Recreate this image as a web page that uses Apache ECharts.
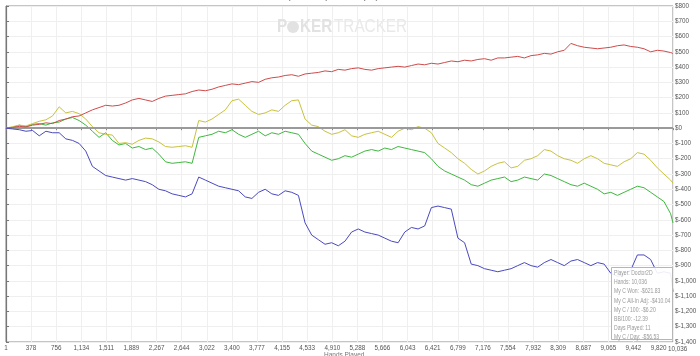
<!DOCTYPE html>
<html><head><meta charset="utf-8">
<script src="https://cdn.jsdelivr.net/npm/echarts@6/dist/echarts.min.js"></script>
<style>html,body{margin:0;padding:0;background:#fff}#c{width:700px;height:356px}</style>
</head><body><div id="c"></div>
<script>
const hands = [0,100,200,300,400,500,600,700,800,900,1000,1100,1200,1300,1400,1500,1600,1700,1800,1900,2000,2100,2200,2300,2400,2500,2600,2700,2800,2900,3000,3100,3200,3300,3400,3500,3600,3700,3800,3900,4000,4100,4200,4300,4400,4500,4600,4700,4800,4900,5000,5100,5200,5300,5400,5500,5600,5700,5800,5900,6000,6100,6200,6300,6400,6500,6600,6700,6800,6900,7000,7100,7200,7300,7400,7500,7600,7700,7800,7900,8000,8100,8200,8300,8400,8500,8600,8700,8800,8900,9000,9100,9200,9300,9400,9500,9600,9700,9800,9900,10000,10036];
const redValues = [0,5,12,8,20,25,35,30,50,60,75,80,100,120,135,150,145,150,165,185,195,185,175,195,210,215,220,225,240,250,245,255,270,280,290,285,295,305,300,320,330,335,345,350,340,355,360,365,375,370,385,380,390,395,385,380,390,395,400,405,400,410,420,415,425,420,430,440,435,445,440,450,455,445,460,460,465,470,460,475,480,490,485,500,510,555,540,530,525,520,525,530,540,545,535,530,520,500,510,505,495,490];
const yellowValues = [0,10,20,15,30,45,55,80,140,100,110,95,60,10,-30,-40,-45,-100,-95,-105,-80,-65,-70,-90,-120,-125,-120,-115,-125,50,40,60,90,120,180,190,150,110,90,100,120,110,150,180,185,60,20,10,-20,-40,-30,-10,-50,-60,-40,-30,-20,-40,-60,-20,0,-10,10,0,-30,-100,-130,-160,-200,-230,-270,-300,-280,-250,-230,-220,-260,-250,-210,-200,-180,-140,-150,-180,-200,-210,-230,-200,-180,-200,-230,-240,-250,-220,-200,-160,-170,-210,-260,-300,-340,-360];
const greenValues = [0,5,20,10,25,30,20,35,40,60,70,50,20,-20,-60,-30,-80,-110,-100,-130,-120,-140,-130,-170,-220,-230,-225,-220,-230,-60,-50,-40,-20,-30,-10,-40,-60,-40,-20,-50,-30,-40,-20,-30,-40,-100,-150,-170,-190,-210,-200,-180,-190,-170,-150,-140,-150,-130,-140,-120,-130,-140,-150,-160,-200,-250,-280,-300,-320,-340,-370,-380,-360,-340,-330,-320,-350,-340,-320,-330,-340,-300,-310,-330,-350,-370,-380,-360,-380,-400,-430,-420,-440,-420,-400,-380,-390,-420,-450,-480,-560,-620];
const blueValues = [0,-5,-10,-20,-15,-50,-20,-30,-30,-70,-80,-100,-150,-250,-280,-310,-320,-330,-340,-330,-340,-350,-370,-400,-410,-430,-440,-450,-430,-320,-340,-360,-380,-390,-400,-410,-450,-460,-420,-400,-430,-440,-410,-420,-440,-620,-700,-730,-760,-750,-770,-740,-680,-660,-680,-690,-700,-720,-740,-750,-680,-650,-660,-640,-520,-510,-520,-530,-720,-750,-890,-900,-920,-930,-940,-930,-920,-900,-880,-900,-910,-880,-860,-880,-900,-870,-860,-880,-900,-880,-890,-950,-970,-960,-930,-830,-830,-860,-950,-940,-950,-1070];
const xTickLabels = ['1','378','756','1,134','1,511','1,889','2,267','2,644','3,022','3,400','3,777','4,155','4,533','4,910','5,288','5,666','6,043','6,421','6,799','7,176','7,554','7,932','8,309','8,687','9,065','9,442','9,820','10,036'];
const seriesNames = ['My C Won','My C All-In Adj','My C Showdown','My C Non-Showdown'];
const seriesColors = ['#3fb83f','#c9c23e','#cf4b4b','#4a4ac0'];
const infoLines = ['Player: Doctor2D','Hands: 10,036','My C Won: -$621.83','My C All-In Adj: -$410.04','My C / 100: -$6.20','BB/100: -12.39','Days Played: 11','My C / Day: -$56.53'];
const titleText = 'My C Won, My C All-In Adj, My C Showdown Won, Non-Showdown';
const playerName = 'Doctor2D';
const xAxisTitle = 'Hands Played';

const FONT = "'Liberation Sans', Arial, sans-serif";
const X_INTERVAL = 377.65;
const X_MAX = 10036;
function money(v){
  const s = Math.abs(v).toLocaleString('en-US');
  return '$' + (v < 0 ? '-' : '') + s;
}
const valueSets = [greenValues, yellowValues, redValues, blueValues];
const series = valueSets.map((vals, i) => ({
  name: seriesNames[i], type: 'line', showSymbol: false, symbol: 'none',
  data: hands.map((h, j) => [h, vals[j]]),
  lineStyle: { color: seriesColors[i], width: 1 }, itemStyle: { color: seriesColors[i] },
  animation: false, z: 3 + i
}));
series.push({
  type: 'line', data: [], silent: true, animation: false,
  markLine: { silent: true, symbol: ['none','none'], label: { show: false },
    lineStyle: { color: '#9a9a9a', width: 2, type: 'solid' }, data: [{ yAxis: 0 }] }
});

const chart = echarts.init(document.getElementById('c'), null, { renderer: 'canvas' });
const lineTextEls = infoLines.map((t, i) => ({
  type: 'text', x: 614, y: 270 + i * 9.1, z: 100, scaleX: 0.78,
  style: { text: t, fontSize: 6.5, fill: '#9a9a9a', fontFamily: FONT }
}));
const graphics = [
  { type: 'text', x: 277, y: 18, z: 0, silent: true, scaleX: 0.85,
    style: { text: 'P', fontSize: 18, fontWeight: 'bold', fill: '#e2e2e2', fontFamily: FONT } },
  { type: 'circle', shape: { cx: 293, cy: 27, r: 6 }, z: 0, silent: true, style: { fill: '#e2e2e2' } },
  { type: 'text', x: 300, y: 18, z: 0, silent: true, scaleX: 0.85,
    style: { text: 'KER', fontSize: 18, fontWeight: 'bold', fill: '#e2e2e2', fontFamily: FONT } },
  { type: 'text', x: 334, y: 18, z: 0, silent: true, scaleX: 0.85,
    style: { text: 'TRACKER', fontSize: 18, fill: '#e9e9e9', fontFamily: FONT } },
  { type: 'text', left: 283, top: -6, z: 50,
    style: { text: titleText + '  {d|●} ' + playerName, fontSize: 7, fill: '#666',
      rich: { d: { fill: '#d03030', fontSize: 7 } }, fontFamily: FONT } },
  { type: 'text', x: 324, y: 352, z: 50,
    style: { text: xAxisTitle, fontSize: 6.5, fill: '#777', fontFamily: FONT } },
  { type: 'rect', left: 611, top: 267, z: 99, shape: { width: 61, height: 72 },
    style: { fill: 'rgba(255,255,255,0.9)', stroke: '#b5b5b5', lineWidth: 1 } },
  ...lineTextEls
];
chart.setOption({
  animation: false,
  backgroundColor: '#ffffff',
  grid: { left: 6, right: 27, top: 6, bottom: 14, show: true, borderColor: '#8a8a8a', borderWidth: 1 },
  xAxis: {
    type: 'value', min: 0, max: X_MAX, interval: X_INTERVAL,
    axisLine: { show: true, lineStyle: { color: '#888', width: 1 } },
    axisTick: { show: true, length: 2, lineStyle: { color: '#888' } },
    axisLabel: { fontSize: 6.3, color: '#555', margin: 3, fontFamily: FONT, showMaxLabel: true, showMinLabel: true, hideOverlap: false,
      formatter: v => v >= X_MAX - 1 ? '' : xTickLabels[Math.round(v / X_INTERVAL)] },
    splitLine: { show: true, lineStyle: { color: '#efefef', width: 1 } }
  },
  yAxis: {
    type: 'value', position: 'right', min: -1400, max: 800, interval: 100,
    axisLine: { show: true, lineStyle: { color: '#777', width: 1.2 } },
    axisTick: { show: true, length: 3, lineStyle: { color: '#777' } },
    axisLabel: { fontSize: 6.3, color: '#555', margin: 2, fontFamily: FONT, formatter: money },
    splitLine: { show: true, lineStyle: { color: '#efefef', width: 1 } }
  },
  series: series,
  graphic: graphics
});
// last x label placed just right of the 9,820 label, anchored to the axis max position
const maxPx = chart.convertToPixel({ xAxisIndex: 0 }, X_MAX);
const axisY = chart.convertToPixel({ yAxisIndex: 0 }, -1400);
graphics.push({ type: 'text', x: maxPx - 5, y: axisY + 4, z: 60,
  style: { text: xTickLabels[xTickLabels.length - 1], fontSize: 6.3, fill: '#555', fontFamily: FONT } });
chart.setOption({ graphic: graphics }, { replaceMerge: ['graphic'] });
</script></body></html>
